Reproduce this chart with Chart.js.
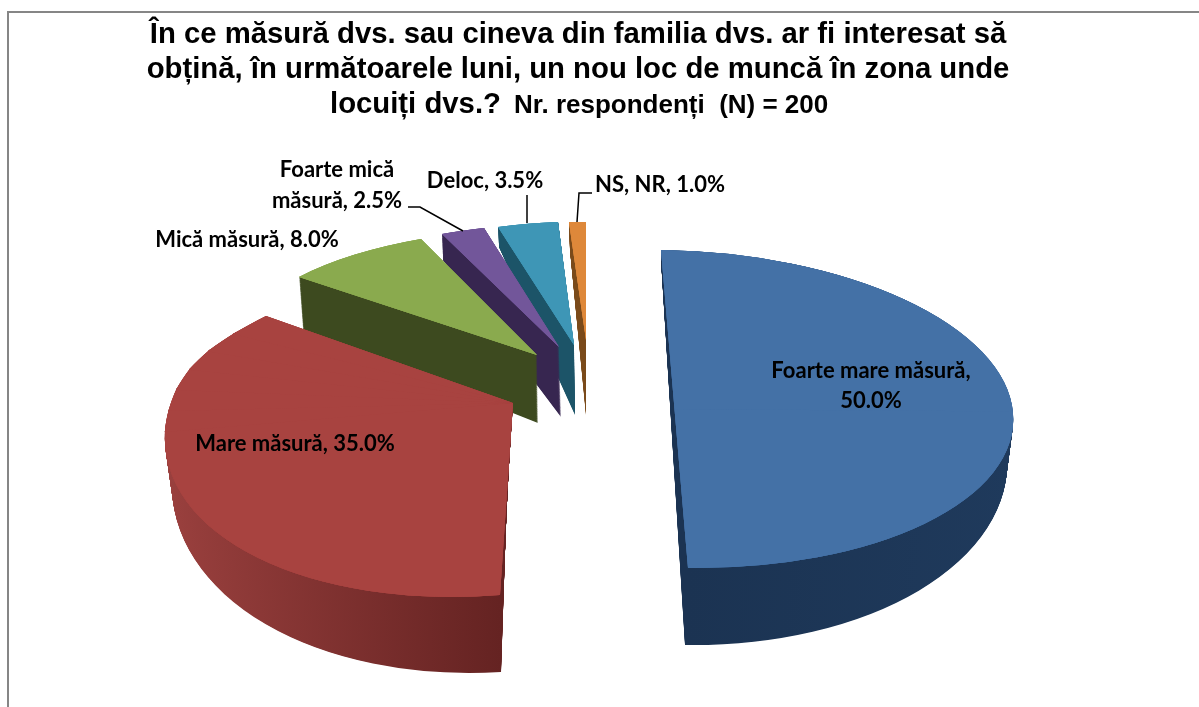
<!DOCTYPE html>
<html>
<head>
<meta charset="utf-8">
<title>Pie</title>
<script src="https://cdn.jsdelivr.net/npm/chart.js@4"></script>
<style>
  html, body { margin: 0; padding: 0; background: #fff; }
  canvas { display: block; }
</style>
</head>
<body>
<canvas id="myChart" width="1199" height="707"></canvas>
<script>
var categories = ["Foarte mare măsură", "Mare măsură", "Mică măsură", "Foarte mică măsură", "Deloc", "NS, NR"];
var percents = [50.0, 35.0, 8.0, 2.5, 3.5, 1.0];
var titleLines = [
  "În ce măsură dvs. sau cineva din familia dvs. ar fi interesat să",
  "obțină, în următoarele luni, un nou loc de muncă în zona unde"
];
var titleLast = "locuiți dvs.?";
var titleNote = "Nr. respondenți  (N) = 200";

var topColors = ["#4471a6", "#a84340", "#8aaa4e", "#72569a", "#3e96b6", "#de883a"];
var sideFrom = ["#1b3352", "#9a403e", "#3d4a1f", "#372650", "#1c5468", "#7a4a1a"];
var sideTo = ["#1f3a5c", "#652322", "#3d4a1f", "#372650", "#1c5468", "#7a4a1a"];
var sideRange = [[0, 1], [-1, 0], [-1, 1], [-1, 1], [-1, 1], [-1, 1]];

// where each exploded slice lands on the page. no real perspective in canvas,
// so every slice gets fitted transforms from the apex and a few rim points
// f = fraction along the slice's own arc
var shapes = [
  { apex: [674.5, 409], rim: [[0, 661, 250], [0.5, 1013, 413], [1, 688, 568]],
    apexLow: [673, 452], rimLow: [[0, 661, 259], [0.5, 1007, 456], [1, 685, 645]] },
  { apex: [513, 403],
    rim: [[0, 500, 595], [0.7143, 165, 430], [0.7619, 169, 409], [0.8095, 177, 388], [0.8571, 190.5, 368],
      [0.9048, 210, 349.5], [0.9524, 235.5, 332.5], [1, 266, 316]],
    apexLow: [508, 460],
    rimLow: [[0, 501, 672], [0.7143, 172, 480], [0.7619, 172, 458], [0.8095, 180, 430], [0.8571, 193, 403],
      [0.9048, 212, 382], [0.9524, 238, 362], [1, 270, 350]] },
  { apex: [537, 355], rim: [[0, 299, 277], [1, 421, 239]],
    apexLow: [538, 423], rimLow: [[0, 303, 330], [1, 424, 285]] },
  { apex: [559, 347], rim: [[0, 442, 234], [1, 484, 228]],
    apexLow: [561, 417], rimLow: [[0, 443, 260], [1, 487, 254]] },
  { apex: [574, 345], rim: [[0, 498, 227], [1, 558, 222]],
    apexLow: [575, 415], rimLow: [[0, 499, 247], [1, 559, 242]] },
  { apex: [586, 340], rim: [[0, 569, 222], [1, 586, 222]],
    apexLow: [586, 415], rimLow: [[0, 570, 250], [1, 586, 250]] }
];

var labelFont = "bold 22px Lato";
var labelPlaces = [
  [[871, 371], [871, 401]],
  [[295, 444]],
  [[247, 240]],
  [[337, 170], [337, 201]],
  [[485, 181]],
  [[660, 185]]
];
var leaders = [
  [[408, 207], [420, 207], [463, 231]],
  [[527, 195], [527, 223]],
  [[592, 193], [579, 193], [577, 222]]
];

function fitMatrix(apex, p, q, a1, a2) {
  var u1 = Math.cos(a1), v1 = Math.sin(a1), u2 = Math.cos(a2), v2 = Math.sin(a2);
  var det = u1 * v2 - u2 * v1;
  var dx1 = p[1] - apex[0], dy1 = p[2] - apex[1], dx2 = q[1] - apex[0], dy2 = q[2] - apex[1];
  return [
    (dx1 * v2 - dx2 * v1) / det, (dy1 * v2 - dy2 * v1) / det,
    (u1 * dx2 - u2 * dx1) / det, (u1 * dy2 - u2 * dy1) / det,
    apex[0], apex[1]
  ];
}

function drawWedge(ctx, arc, m, a1, a2, fill) {
  var R = arc.outerRadius;
  var w = Object.create(arc);
  w.startAngle = a1;
  w.endAngle = a2;
  w.circumference = a2 - a1;
  w.options = Object.create(arc.options, { backgroundColor: { value: fill } });
  ctx.save();
  ctx.transform(m[0] / R, m[1] / R, m[2] / R, m[3] / R,
    m[4] - (m[0] * arc.x + m[2] * arc.y) / R,
    m[5] - (m[1] * arc.x + m[3] * arc.y) / R);
  w.draw(ctx);
  ctx.restore();
}

var pie3d = {
  id: "pie3d",
  beforeDatasetsDraw: function (chart) {
    var ctx = chart.ctx;
    var arcs = chart.getDatasetMeta(0).data;
    // back slices first, the big blue one last
    for (var i = arcs.length - 1; i >= 0; i--) {
      var arc = arcs[i], s = shapes[i];
      var R = arc.outerRadius;
      var grad = ctx.createLinearGradient(arc.x + sideRange[i][0] * R, 0, arc.x + sideRange[i][1] * R, 0);
      grad.addColorStop(0, sideFrom[i]);
      grad.addColorStop(1, sideTo[i]);
      for (var k = 0; k < s.rim.length - 1; k++) {
        var a1 = arc.startAngle + s.rim[k][0] * arc.circumference;
        var a2 = arc.startAngle + s.rim[k + 1][0] * arc.circumference;
        var mTop = fitMatrix(s.apex, s.rim[k], s.rim[k + 1], a1, a2);
        var mLow = fitMatrix(s.apexLow, s.rimLow[k], s.rimLow[k + 1], a1, a2);
        var from = k > 0 ? a1 - 0.01 : a1;
        for (var n = 100; n > 0; n--) {
          var t = n / 100;
          var m = mTop.map(function (v, j) { return v + (mLow[j] - v) * t; });
          drawWedge(ctx, arc, m, from, a2, grad);
        }
      }
      // three passes or the joins between fitted pieces show as hairlines
      for (var pass = 0; pass < 3; pass++) {
        for (k = 0; k < s.rim.length - 1; k++) {
          a1 = arc.startAngle + s.rim[k][0] * arc.circumference;
          a2 = arc.startAngle + s.rim[k + 1][0] * arc.circumference;
          mTop = fitMatrix(s.apex, s.rim[k], s.rim[k + 1], a1, a2);
          drawWedge(ctx, arc, mTop, k > 0 ? a1 - 0.01 : a1, a2, topColors[i]);
        }
      }
    }
    return false;
  },
  afterDraw: function (chart) {
    var ctx = chart.ctx;
    ctx.save();
    ctx.fillStyle = "#000";
    ctx.textBaseline = "middle";

    // last title line has two font sizes
    ctx.textAlign = "left";
    ctx.font = "bold 29.3px 'Liberation Sans'";
    ctx.fillText(titleLast, 330, 105);
    ctx.font = "bold 26px 'Liberation Sans'";
    ctx.fillText(titleNote, 514, 106);

    ctx.font = labelFont;
    ctx.textAlign = "center";
    var i;
    for (i = 0; i < categories.length; i++) {
      var txt = categories[i] + ", " + percents[i].toFixed(1) + "%";
      var places = labelPlaces[i];
      if (places.length === 1) {
        ctx.fillText(txt, places[0][0], places[0][1]);
      } else if (i === 0) {
        ctx.fillText(categories[i] + ",", places[0][0], places[0][1]);
        ctx.fillText(percents[i].toFixed(1) + "%", places[1][0], places[1][1]);
      } else {
        ctx.fillText("Foarte mică", places[0][0], places[0][1]);
        ctx.fillText("măsură, " + percents[i].toFixed(1) + "%", places[1][0], places[1][1]);
      }
    }

    ctx.strokeStyle = "#000";
    ctx.lineWidth = 1.5;
    leaders.forEach(function (line) {
      ctx.beginPath();
      line.forEach(function (p, j) {
        if (j === 0) ctx.moveTo(p[0], p[1]); else ctx.lineTo(p[0], p[1]);
      });
      ctx.stroke();
    });
    ctx.restore();
  },
  beforeDraw: function (chart) {
    var ctx = chart.ctx;
    ctx.save();
    ctx.fillStyle = "#fff";
    ctx.fillRect(0, 0, chart.width, chart.height);
    ctx.strokeStyle = "#868686";
    ctx.lineWidth = 2;
    ctx.beginPath();
    ctx.moveTo(8, chart.height);
    ctx.lineTo(8, 12);
    ctx.lineTo(chart.width, 12);
    ctx.stroke();
    ctx.restore();
  }
};

new Chart(document.getElementById("myChart"), {
  type: "pie",
  data: {
    labels: categories,
    datasets: [{
      data: percents,
      backgroundColor: topColors,
      borderWidth: 0
    }]
  },
  options: {
    responsive: false,
    animation: false,
    layout: { padding: { right: 43 } },
    plugins: {
      legend: { display: false },
      tooltip: { enabled: false },
      title: {
        display: true,
        text: titleLines,
        color: "#000",
        font: { family: "'Liberation Sans'", size: 29.3, weight: "bold", lineHeight: 1.2 },
        padding: { top: 17, bottom: 40 }
      }
    }
  },
  plugins: [pie3d]
});
</script>
</body>
</html>
